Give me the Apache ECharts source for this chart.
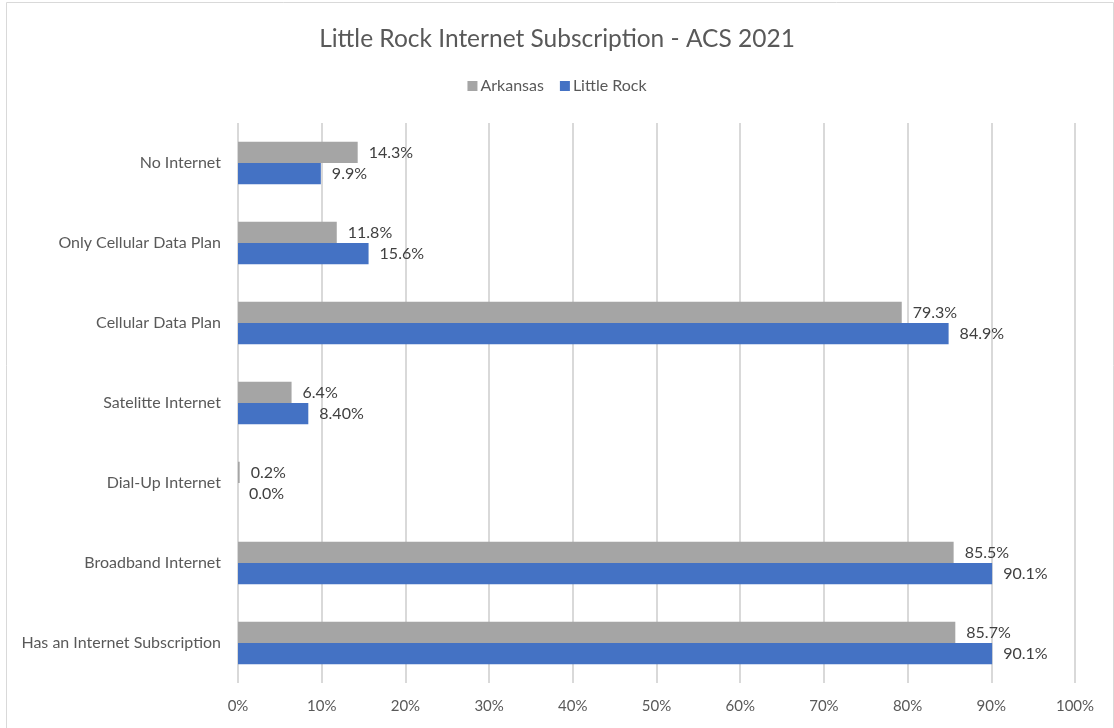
<!DOCTYPE html>
<html>
<head>
<meta charset="utf-8">
<script src="https://cdn.jsdelivr.net/npm/echarts@6/dist/echarts.min.js"></script>
<style>
html,body{margin:0;padding:0;background:#fff;}
#chart{width:1114px;height:728px;}
</style>
</head>
<body>
<div id="chart"></div>
<script>
const categories = ["No Internet", "Only Cellular Data Plan", "Cellular Data Plan", "Satelitte Internet", "Dial-Up Internet", "Broadband Internet", "Has an Internet Subscription"];
const arkansas = [14.3, 11.8, 79.3, 6.4, 0.2, 85.5, 85.7];
const littleRock = [9.9, 15.6, 84.9, 8.4, 0.0, 90.1, 90.1];
const arkansasLabels = ["14.3%", "11.8%", "79.3%", "6.4%", "0.2%", "85.5%", "85.7%"];
const littleRockLabels = ["9.9%", "15.6%", "84.9%", "8.40%", "0.0%", "90.1%", "90.1%"];
const xTicks = [0, 10, 20, 30, 40, 50, 60, 70, 80, 90, 100];

const font = "Lato, 'Open Sans', sans-serif";
const chart = echarts.init(document.getElementById('chart'));
chart.setOption({
  animation: false,
  textStyle: { fontFamily: font },
  title: {
    text: 'Little Rock Internet Subscription - ACS 2021',
    left: 'center', top: 22,
    textStyle: { fontFamily: font, fontSize: 24.5, fontWeight: 'normal', color: '#595959' }
  },
  legend: {
    top: 73, left: 'center',
    itemWidth: 10, itemHeight: 10, itemGap: 16,
    icon: 'rect',
    textStyle: { fontFamily: font, fontSize: 16, color: '#595959', padding: [0,0,0,-2] },
    data: ['Arkansas', 'Little Rock']
  },
  graphic: [{
    type: 'rect', left: 4, top: 0, z: -1,
    shape: { width: 1107, height: 727 },
    style: { fill: 'none', stroke: '#D9D9D9', lineWidth: 1 }
  }],
  grid: { left: 238, right: 39, top: 123, bottom: 45, containLabel: false },
  xAxis: {
    type: 'value', min: 0, max: 100, interval: 10,
    axisLine: { show: false }, axisTick: { show: false },
    splitLine: { show: true, lineStyle: { color: '#D9D9D9', width: 2 } },
    axisLabel: { formatter: v => xTicks.includes(v) ? v + '%' : '', color: '#595959', fontSize: 15, fontFamily: font, margin: 16 }
  },
  yAxis: {
    type: 'category', data: categories, inverse: true,
    axisLine: { show: false }, axisTick: { show: false },
    axisLabel: { color: '#595959', fontSize: 16, fontFamily: font, margin: 17 }
  },
  series: [
    {
      name: 'Arkansas', type: 'bar', data: arkansas,
      barGap: '0%', barCategoryGap: '47%',
      itemStyle: { color: '#A5A5A5' },
      label: { show: true, position: 'right', distance: 11, color: '#404040', fontSize: 16, fontFamily: font,
        formatter: p => arkansasLabels[p.dataIndex] }
    },
    {
      name: 'Little Rock', type: 'bar', data: littleRock,
      barGap: '0%', barCategoryGap: '47%',
      itemStyle: { color: '#4472C4' },
      label: { show: true, position: 'right', distance: 11, color: '#404040', fontSize: 16, fontFamily: font,
        formatter: p => littleRockLabels[p.dataIndex] }
    }
  ]
});
</script>
</body>
</html>
